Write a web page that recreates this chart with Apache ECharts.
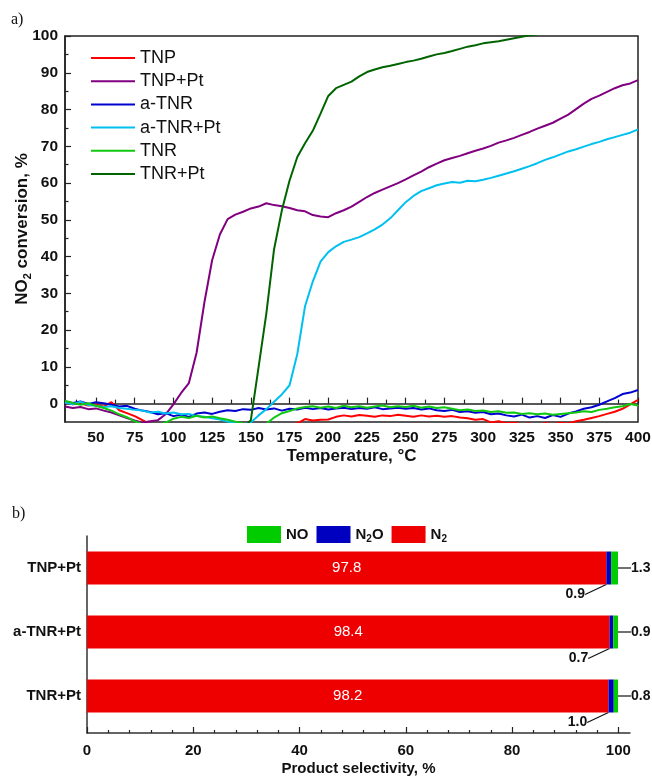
<!DOCTYPE html>
<html>
<head>
<meta charset="utf-8">
<script src="https://cdn.jsdelivr.net/npm/echarts@6/dist/echarts.min.js"></script>
<style>
  html, body { margin: 0; padding: 0; background: #fff; }
  #chart { width: 652px; height: 776px; }
</style>
</head>
<body>
<div id="chart"></div>
<script>
// (a) NO2 conversion vs temperature
var temps = [
  30, 35, 40, 45, 50, 55, 60, 65, 70, 75,
  80, 85, 90, 95, 100, 105, 110, 115, 120, 125,
  130, 135, 140, 145, 150, 155, 160, 165, 170, 175,
  180, 185, 190, 195, 200, 205, 210, 215, 220, 225,
  230, 235, 240, 245, 250, 255, 260, 265, 270, 275,
  280, 285, 290, 295, 300, 305, 310, 315, 320, 325,
  330, 335, 340, 345, 350, 355, 360, 365, 370, 375,
  380, 385, 390, 395, 400
];
var tnp = [
  0.3, -0.2, 0.1, -0.5, -0.3, -0.8, 0.4, -1.8, -2.6, -3.4,
  -4.5, -5.6, -6, -6.2, -6, -6.3, -6.5, -6.2, -6.4, -6.1,
  -6.5, -6.3, -6.6, -6.2, -6.4, -6, -6.3, -5.8, -6, -5.6,
  -5.4, -4.2, -4.6, -4.4, -4.3, -3.6, -3.2, -3.5, -3.1, -3.3,
  -3.6, -3.2, -3.4, -3.0, -3.3, -3.6, -3.2, -3.5, -3.3, -3.6,
  -3.4, -3.8, -4.0, -4.4, -4.2, -5.1, -4.8, -5.3, -5.2, -5.6,
  -5.4, -5.8, -5.3, -5.6, -5.2, -5.4, -4.8, -4.4, -3.9, -3.4,
  -2.8, -2.2, -1.4, -0.2, 1.0
];
var tnpPt = [
  -0.8, -1.2, -0.9, -1.5, -1.3, -1.9, -2.4, -3.2, -3.9, -4.6,
  -5.2, -4.8, -4.5, -2.9, -0.2, 2.9, 5.6, 13.9, 27.5, 39.0,
  46.0, 50.2, 51.4, 52.2, 53.1, 53.6, 54.5, 54.0, 53.7, 53.2,
  52.6, 52.3, 51.3, 50.9, 50.7, 51.8, 52.6, 53.6, 54.9, 56.2,
  57.3, 58.2, 59.1, 60.0, 61.0, 62.1, 63.1, 64.3, 65.3, 66.2,
  66.8, 67.4, 68.1, 68.8, 69.4, 70.1, 71.0, 71.6, 72.3, 73.1,
  73.9, 74.8, 75.6, 76.4, 77.5, 78.6, 80.1, 81.6, 82.9, 83.8,
  84.8, 85.8, 86.6, 87.1, 88.0
];
var aTnr = [
  0.5, 0.2, 0.6, -0.1, 0.4, 0.1, -0.3, -0.8, -0.6, -1.4,
  -1.9, -2.3, -2.9, -2.6, -3.4, -3.0, -3.6, -2.7, -2.4, -2.8,
  -2.2, -1.8, -2.0, -1.5, -1.7, -1.2, -1.6, -1.3, -1.9, -1.4,
  -1.6, -1.1, -1.5, -1.2, -1.6, -1.3, -1.1, -1.5, -1.2, -1.4,
  -1.0, -1.5, -1.3, -1.1, -1.4, -1.2, -1.6, -1.3, -1.8, -2.0,
  -1.7, -2.3, -2.1, -2.5, -2.3, -2.9, -2.7, -3.2, -3.5, -3.0,
  -3.8, -3.4, -3.9, -3.1, -3.6, -2.7, -2.1, -1.4, -1.0, -0.3,
  0.6, 1.5, 2.6, 3.0, 3.7
];
var aTnrPt = [
  0.3, -0.2, 0.5, -0.4, -0.6, -0.9, -0.7, -1.2, -1.4, -1.7,
  -1.9, -2.4, -2.2, -2.7, -2.4, -2.9, -2.8, -3.4, -3.6, -4.0,
  -4.3, -4.9, -5.3, -5.6, -5.1, -3.2, -1.5, 0.5, 2.5, 5.0,
  13.5, 26.5, 33.2, 38.6, 41.2, 42.8, 44.0, 44.6, 45.3, 46.3,
  47.4, 48.7, 50.4, 52.6, 54.8, 56.5, 57.8, 58.6, 59.4, 59.9,
  60.3, 60.1, 60.6, 60.5, 60.9, 61.4, 62.0, 62.6, 63.2, 63.9,
  64.6, 65.4, 66.3, 67.0, 67.8, 68.6, 69.2, 69.9, 70.6, 71.2,
  71.9, 72.5, 73.1, 73.7, 74.6
];
var tnr = [
  0.8, 0.2, -0.3, 0.1, -0.6, -1.2, -1.9, -2.9, -3.7, -4.8,
  -5.6, -6.0, -5.8, -5.2, -4.1, -3.6, -3.9, -3.3, -3.8, -3.5,
  -4.0, -4.4, -4.9, -5.4, -5.8, -6.0, -5.5, -3.8, -2.6, -2.0,
  -1.3, -0.9, -0.7, -1.1, -0.8, -1.2, -0.6, -1.0, -0.7, -1.1,
  -0.8, -0.5, -1.0, -0.7, -0.9, -0.6, -1.1, -0.8, -1.2, -1.0,
  -1.4, -1.8, -1.6, -2.0, -1.9, -2.3, -2.1, -2.5, -2.4, -2.8,
  -2.6, -2.9, -2.7, -3.0, -2.8, -2.6, -2.4, -2.1, -2.3, -1.7,
  -1.4, -1.0, -0.7, -0.1, -0.5
];
var tnrPt = [
  -6.5, -6.4, -6.6, -6.5, -6.7, -6.4, -6.6, -6.5, -6.7, -6.6,
  -6.5, -6.7, -6.6, -6.4, -6.6, -6.5, -6.7, -6.6, -6.5, -6.7,
  -6.6, -6.4, -6.6, -6.5, -4.5, 9.9, 24.5, 42.0, 52.5, 60.7,
  67.1, 70.8, 74.2, 78.9, 83.7, 85.8, 86.7, 87.6, 89.0, 90.2,
  90.9, 91.5, 91.9, 92.4, 92.9, 93.3, 93.8, 94.4, 95.0, 95.4,
  95.9, 96.5, 97.1, 97.5, 98.0, 98.3, 98.6, 99.0, 99.4, 99.8,
  100.2, 100.5, 100.8, 101.0, 101.2, 101.4, 101.5, 101.7, 101.8, 101.9,
  102.0, 102.1, 102.2, 102.3, 102.4
];
var lineNames = ['TNP', 'TNP+Pt', 'a-TNR', 'a-TNR+Pt', 'TNR', 'TNR+Pt'];
var lineColors = ['#ff0000', '#800080', '#0000d0', '#00c0f0', '#10c810', '#006400'];
var tempTicks = [50, 75, 100, 125, 150, 175, 200, 225, 250, 275, 300, 325, 350, 375, 400];
var tempMinorTicks = [37.5, 62.5, 87.5, 112.5, 137.5, 162.5, 187.5, 212.5, 237.5, 262.5, 287.5, 312.5, 337.5, 362.5, 387.5];
var convTicks = [0, 10, 20, 30, 40, 50, 60, 70, 80, 90, 100];
var convMinorTicks = [5, 15, 25, 35, 45, 55, 65, 75, 85, 95];

// (b) product selectivity
var samples = ['TNP+Pt', 'a-TNR+Pt', 'TNR+Pt'];
var n2 = [97.8, 98.4, 98.2];
var n2o = [0.9, 0.7, 1.0];
var no = [1.3, 0.9, 0.8];
var selTicks = [0, 20, 40, 60, 80, 100];
var selMinorTicks = [4, 8, 12, 16, 24, 28, 32, 36, 44, 48, 52, 56, 64, 68, 72, 76, 84, 88, 92, 96];

var font = 'Liberation Sans, Arial, sans-serif';
var chart = echarts.init(document.getElementById('chart'));

function pairs(values) {
  return temps.map(function(t, i) { return [t, values[i]]; });
}
function oneDecimal(p) {
  return p.value.toFixed(1);
}

var lineSeries = [tnp, tnpPt, aTnr, aTnrPt, tnr, tnrPt].map(function(values, i) {
  return {
    name: lineNames[i],
    type: 'line',
    xAxisIndex: 0,
    yAxisIndex: 0,
    symbol: 'none',
    clip: true,
    color: lineColors[i],
    lineStyle: { width: 2, color: lineColors[i] },
    data: pairs(values)
  };
});

var subRich = {
  b: { fontFamily: font, fontWeight: 'bold', fontSize: 15, lineHeight: 20, color: '#111' },
  s: { fontFamily: font, fontWeight: 'bold', fontSize: 10, lineHeight: 10, verticalAlign: 'bottom', color: '#111' }
};
var tickStyle = { color: '#222', width: 1.2 };
var hidden = { show: false };

var option = {
  animation: false,
  backgroundColor: '#fff',
  textStyle: { fontFamily: font },
  graphic: [
    { type: 'text', left: 11, top: 12, style: { text: 'a)', fontFamily: 'Liberation Serif, serif', fontSize: 16, fill: '#111' } },
    { type: 'text', left: 12, top: 506, style: { text: 'b)', fontFamily: 'Liberation Serif, serif', fontSize: 16, fill: '#111' } }
  ],
  legend: [{
    data: lineNames,
    orient: 'vertical',
    left: 86,
    top: 43,
    icon: 'rect',
    itemWidth: 44,
    itemHeight: 2,
    itemGap: 3.2,
    textStyle: { fontFamily: font, fontSize: 18, lineHeight: 20, color: '#111' }
  }, {
    data: ['NO', 'N2O', 'N2'],
    left: 242,
    top: 521,
    icon: 'rect',
    itemWidth: 34,
    itemHeight: 17,
    itemGap: 8,
    formatter: function(name) {
      if (name === 'N2O') return '{b|N}{s|2}{b|O}';
      if (name === 'N2') return '{b|N}{s|2}';
      return '{b|' + name + '}';
    },
    textStyle: { rich: subRich }
  }],
  grid: [
    { left: 65, right: 14, top: 36, bottom: 354, outerBoundsMode: 'none', show: true, borderColor: '#222', borderWidth: 1.5 },
    { left: 87, right: 34, top: 536, bottom: 48, outerBoundsMode: 'none' },
    { left: 87, right: 22, top: 536, bottom: 43, outerBoundsMode: 'none' }
  ],
  xAxis: [{
    gridIndex: 0,
    type: 'value',
    position: 'bottom',
    min: 30,
    max: 400,
    axisLine: { lineStyle: { color: '#222', width: 1.5 } },
    axisTick: { inside: true, length: 6, customValues: tempTicks, lineStyle: tickStyle },
    splitLine: hidden,
    axisLabel: { margin: 8, fontSize: 15.5, fontWeight: 'bold', color: '#111', customValues: tempTicks },
    name: 'Temperature, °C',
    nameLocation: 'middle',
    nameGap: 26,
    nameTextStyle: { fontSize: 17, fontWeight: 'bold', color: '#111' }
  }, {
    gridIndex: 0,
    type: 'value',
    position: 'bottom',
    min: 30,
    max: 400,
    axisLine: hidden,
    axisTick: { inside: true, length: 4, customValues: tempMinorTicks, lineStyle: tickStyle },
    axisLabel: hidden,
    splitLine: hidden
  }, {
    gridIndex: 1,
    type: 'value',
    min: 0,
    max: 100,
    show: false
  }, {
    gridIndex: 2,
    type: 'value',
    position: 'bottom',
    min: 0,
    max: 102.2,
    axisLine: { lineStyle: { color: '#333', width: 1.5 } },
    axisTick: { inside: true, length: 6, customValues: selTicks, lineStyle: tickStyle },
    axisLabel: { margin: 10, fontSize: 15, fontWeight: 'bold', color: '#111', customValues: selTicks },
    splitLine: hidden,
    name: 'Product selectivity, %',
    nameLocation: 'middle',
    nameGap: 28,
    nameTextStyle: { fontSize: 15, fontWeight: 'bold', color: '#111' }
  }, {
    gridIndex: 2,
    type: 'value',
    position: 'bottom',
    min: 0,
    max: 102.2,
    axisLine: hidden,
    axisTick: { inside: true, length: 3, customValues: selMinorTicks, lineStyle: tickStyle },
    axisLabel: hidden,
    splitLine: hidden
  }],
  yAxis: [{
    gridIndex: 0,
    type: 'value',
    position: 'left',
    min: -5,
    max: 100,
    axisLine: { show: true, lineStyle: { color: '#222', width: 1.5 } },
    axisTick: { show: true, inside: true, length: 6, customValues: convTicks, lineStyle: tickStyle },
    splitLine: hidden,
    axisLabel: { margin: 7, fontSize: 15.5, fontWeight: 'bold', color: '#111', customValues: convTicks },
    name: '{b|NO}{s|2}{b| conversion, %}',
    nameLocation: 'middle',
    nameGap: 32,
    nameMoveOverlap: false,
    nameTextStyle: {
      rich: {
        b: { fontFamily: font, fontWeight: 'bold', fontSize: 17, lineHeight: 22, color: '#111' },
        s: { fontFamily: font, fontWeight: 'bold', fontSize: 11, lineHeight: 11, verticalAlign: 'bottom', color: '#111' }
      }
    }
  }, {
    gridIndex: 0,
    type: 'value',
    position: 'left',
    min: -5,
    max: 100,
    axisLine: hidden,
    axisTick: { show: true, inside: true, length: 3.5, customValues: convMinorTicks, lineStyle: tickStyle },
    axisLabel: hidden,
    splitLine: hidden
  }, {
    gridIndex: 1,
    type: 'category',
    inverse: true,
    data: samples,
    axisLine: hidden,
    axisTick: hidden,
    axisLabel: { margin: 6, fontSize: 15, fontWeight: 'bold', color: '#111' }
  }, {
    gridIndex: 2,
    type: 'value',
    position: 'left',
    min: 0,
    max: 1,
    axisLine: { show: true, lineStyle: { color: '#333', width: 1.5 } },
    axisTick: hidden,
    axisLabel: hidden,
    splitLine: hidden
  }],
  series: lineSeries.concat([{
    name: 'N2',
    type: 'bar',
    stack: 'sel',
    xAxisIndex: 2,
    yAxisIndex: 2,
    barWidth: 33,
    color: '#ee0000',
    itemStyle: { color: '#ee0000' },
    label: { show: true, position: 'inside', color: '#fff', fontSize: 15, formatter: oneDecimal },
    data: n2
  }, {
    name: 'N2O',
    type: 'bar',
    stack: 'sel',
    xAxisIndex: 2,
    yAxisIndex: 2,
    barWidth: 33,
    color: '#0000c0',
    itemStyle: { color: '#0000c0' },
    label: { show: true, position: 'bottom', color: '#111', fontSize: 14, fontWeight: 'bold', formatter: oneDecimal },
    labelLine: { show: true, lineStyle: { color: '#111', width: 1.2 } },
    labelLayout: function(p) {
      return {
        x: p.rect.x - 31,
        y: p.rect.y + p.rect.height + 10,
        align: 'center',
        verticalAlign: 'middle'
      };
    },
    data: n2o
  }, {
    name: 'NO',
    type: 'bar',
    stack: 'sel',
    xAxisIndex: 2,
    yAxisIndex: 2,
    barWidth: 33,
    color: '#00cc00',
    itemStyle: { color: '#00cc00' },
    label: { show: true, position: 'right', color: '#111', fontSize: 14, fontWeight: 'bold', formatter: oneDecimal },
    labelLine: { show: true, lineStyle: { color: '#111', width: 1.2 } },
    labelLayout: function(p) {
      return {
        x: p.rect.x + p.rect.width + 13,
        y: p.rect.y + p.rect.height / 2,
        align: 'left',
        verticalAlign: 'middle'
      };
    },
    data: no
  }])
};

chart.setOption(option);
</script>
</body>
</html>
